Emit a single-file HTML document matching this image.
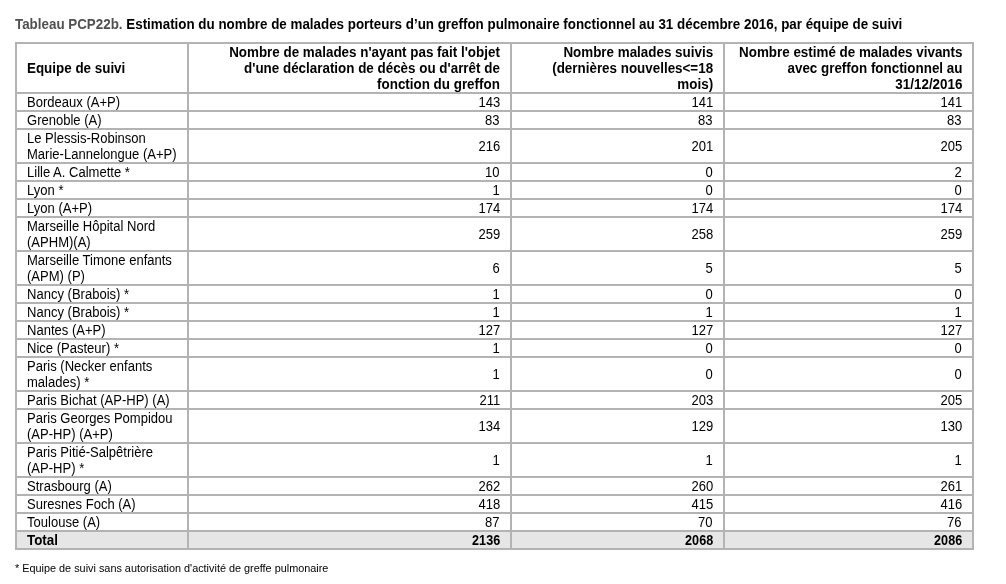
<!DOCTYPE html>
<html lang="fr">
<head>
<meta charset="utf-8">
<title>Tableau PCP22b</title>
<style>
html,body{margin:0;padding:0;background:#fff;}
body{width:1006px;height:584px;position:relative;overflow:hidden;font-family:"Liberation Sans",Arial,sans-serif;color:#000;}
.title{position:absolute;left:15px;top:16px;font-size:14px;font-weight:bold;line-height:16px;white-space:nowrap;transform:scaleX(.9555);transform-origin:0 50%;}
.title .g{color:#505050;}
table{position:absolute;left:15px;top:42px;width:959px;border-collapse:collapse;table-layout:fixed;font-size:14px;line-height:16px;}
td,th{border:2px solid #b3b3b3;padding:0 10px 0 10px;vertical-align:middle;}
th{font-weight:bold;text-align:right;height:48px;}
th.l{text-align:left;}
td{text-align:right;}
td.l{text-align:left;padding-right:2px;}
td span,th span{display:inline-block;white-space:nowrap;transform:scaleX(.931);transform-origin:100% 50%;margin-left:-80px;}
th span,tr.tot span{transform:scaleX(.957);}
tr.tot td span{transform:scaleX(.9);}
tr.tot td.l span{transform:scaleX(.957);}
td.l span,th.l span{transform-origin:0 50%;margin-left:0;margin-right:-80px;}
tr.tot td{background:#e6e6e6;font-weight:bold;}
.note{position:absolute;left:15px;top:561px;font-size:10.86px;line-height:14px;white-space:nowrap;}
</style>
</head>
<body>
<div class="title"><span class="g">Tableau PCP22b.</span> Estimation du nombre de malades porteurs d’un greffon pulmonaire fonctionnel au 31 décembre 2016, par équipe de suivi</div>
<table>
<colgroup><col style="width:172px"><col style="width:323px"><col style="width:213px"><col style="width:249px"></colgroup>
<tr><th class="l"><span>Equipe de suivi</span></th><th><span>Nombre de malades n'ayant pas fait l'objet<br>d'une déclaration de décès ou d'arrêt de<br>fonction du greffon</span></th><th><span>Nombre malades suivis<br>(dernières nouvelles&lt;=18<br>mois)</span></th><th><span>Nombre estimé de malades vivants<br>avec greffon fonctionnel au<br>31/12/2016</span></th></tr>
<tr><td class="l"><span>Bordeaux (A+P)</span></td><td><span>143</span></td><td><span>141</span></td><td><span>141</span></td></tr>
<tr><td class="l"><span>Grenoble (A)</span></td><td><span>83</span></td><td><span>83</span></td><td><span>83</span></td></tr>
<tr><td class="l"><span>Le Plessis-Robinson<br>Marie-Lannelongue (A+P)</span></td><td><span>216</span></td><td><span>201</span></td><td><span>205</span></td></tr>
<tr><td class="l"><span>Lille A. Calmette *</span></td><td><span>10</span></td><td><span>0</span></td><td><span>2</span></td></tr>
<tr><td class="l"><span>Lyon *</span></td><td><span>1</span></td><td><span>0</span></td><td><span>0</span></td></tr>
<tr><td class="l"><span>Lyon (A+P)</span></td><td><span>174</span></td><td><span>174</span></td><td><span>174</span></td></tr>
<tr><td class="l"><span>Marseille Hôpital Nord<br>(APHM)(A)</span></td><td><span>259</span></td><td><span>258</span></td><td><span>259</span></td></tr>
<tr><td class="l"><span>Marseille Timone enfants<br>(APM) (P)</span></td><td><span>6</span></td><td><span>5</span></td><td><span>5</span></td></tr>
<tr><td class="l"><span>Nancy (Brabois) *</span></td><td><span>1</span></td><td><span>0</span></td><td><span>0</span></td></tr>
<tr><td class="l"><span>Nancy (Brabois) *</span></td><td><span>1</span></td><td><span>1</span></td><td><span>1</span></td></tr>
<tr><td class="l"><span>Nantes (A+P)</span></td><td><span>127</span></td><td><span>127</span></td><td><span>127</span></td></tr>
<tr><td class="l"><span>Nice (Pasteur) *</span></td><td><span>1</span></td><td><span>0</span></td><td><span>0</span></td></tr>
<tr><td class="l"><span>Paris (Necker enfants<br>malades) *</span></td><td><span>1</span></td><td><span>0</span></td><td><span>0</span></td></tr>
<tr><td class="l"><span>Paris Bichat (AP-HP) (A)</span></td><td><span>211</span></td><td><span>203</span></td><td><span>205</span></td></tr>
<tr><td class="l"><span>Paris Georges Pompidou<br>(AP-HP) (A+P)</span></td><td><span>134</span></td><td><span>129</span></td><td><span>130</span></td></tr>
<tr><td class="l"><span>Paris Pitié-Salpêtrière<br>(AP-HP) *</span></td><td><span>1</span></td><td><span>1</span></td><td><span>1</span></td></tr>
<tr><td class="l"><span>Strasbourg (A)</span></td><td><span>262</span></td><td><span>260</span></td><td><span>261</span></td></tr>
<tr><td class="l"><span>Suresnes Foch (A)</span></td><td><span>418</span></td><td><span>415</span></td><td><span>416</span></td></tr>
<tr><td class="l"><span>Toulouse (A)</span></td><td><span>87</span></td><td><span>70</span></td><td><span>76</span></td></tr>
<tr class="tot"><td class="l"><span>Total</span></td><td><span>2136</span></td><td><span>2068</span></td><td><span>2086</span></td></tr>
</table>
<div class="note">* Equipe de suivi sans autorisation d'activité de greffe pulmonaire</div>
</body>
</html>
